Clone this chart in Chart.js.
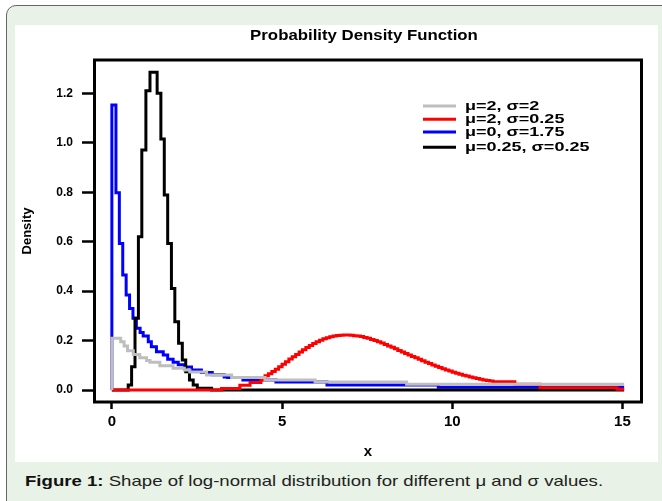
<!DOCTYPE html>
<html>
<head>
<meta charset="utf-8">
<script src="https://cdn.jsdelivr.net/npm/chart.js@4.4.0/dist/chart.umd.min.js"></script>
<style>
html,body{margin:0;padding:0;background:#fff;overflow:hidden;width:662px;height:501px;}
#frame{position:absolute;left:6px;top:5px;width:672px;height:512px;border:1.5px solid #666;border-radius:10px;background:#e8f2e6;box-sizing:border-box;}
#panel{position:absolute;left:15px;top:25px;width:643px;height:437px;background:#fff;}
#caption{position:absolute;left:25px;top:472px;font:15px "Liberation Sans",Arial,sans-serif;color:#222;white-space:nowrap;transform-origin:0 0;transform:scaleX(1.24);}
#caption b{color:#111;}
</style>
</head>
<body>
<div id="frame"></div>
<div id="panel"><canvas id="c" width="643" height="437"></canvas></div>
<div id="caption"><b>Figure 1:</b> Shape of log-normal distribution for different μ and σ values.</div>
<script>
// ---- data ----
const chartTitle = 'Probability Density Function';
const xAxisLabel = 'x';
const yAxisLabel = 'Density';
const xTickValues = [0, 5, 10, 15];
const yTickValues = [0, 0.2, 0.4, 0.6, 0.8, 1.0, 1.2];
const seriesLabels = ['μ=2, σ=2', 'μ=2, σ=0.25', 'μ=0, σ=1.75', 'μ=0.25, σ=0.25'];
const seriesColors = ['#bebebe', '#ff0000', '#0000ff', '#000000'];

const grayX = [0, 0, 0.26, 0.36, 0.46, 0.63, 0.82, 1.02, 1.12, 1.41, 1.80, 2.13, 2.29, 2.78, 3.52, 4.50, 5.97, 8.66, 15.05];
const grayY = [0, 0.209, 0.195, 0.178, 0.159, 0.144, 0.131, 0.119, 0.112, 0.098, 0.088, 0.081, 0.073, 0.061, 0.051, 0.041, 0.032, 0.023, 0.023];

const redX = [0, 3.22, 3.76, 4.06, 4.38,
  4.5, 4.6, 4.7, 4.8, 4.9, 5.0, 5.1, 5.2, 5.3, 5.4, 5.5, 5.6, 5.7, 5.8, 5.9,
  6.0, 6.1, 6.2, 6.3, 6.4, 6.5, 6.6, 6.7, 6.8, 6.9, 7.0, 7.1, 7.2, 7.3, 7.4,
  7.5, 7.6, 7.7, 7.8, 7.9, 8.0, 8.1, 8.2, 8.3, 8.4, 8.5, 8.6, 8.7, 8.8, 8.9,
  9.0, 9.1, 9.2, 9.3, 9.4, 9.5, 9.6, 9.7, 9.8, 9.9, 10.0, 10.1, 10.2, 10.3, 10.4,
  10.5, 10.6, 10.7, 10.8, 10.9, 11.0, 11.1,
  11.2, 11.84, 12.58, 14.84, 15.05];
const redY = [0, 0.006, 0.019, 0.030, 0.042,
  0.058, 0.066, 0.075, 0.084, 0.094, 0.104, 0.114, 0.125, 0.135, 0.144, 0.154, 0.163, 0.172, 0.180, 0.188,
  0.195, 0.201, 0.207, 0.211, 0.215, 0.218, 0.221, 0.222, 0.223, 0.223, 0.222, 0.220, 0.218, 0.216, 0.212,
  0.209, 0.204, 0.200, 0.195, 0.190, 0.184, 0.178, 0.173, 0.167, 0.160, 0.154, 0.148, 0.142, 0.136, 0.130,
  0.124, 0.118, 0.112, 0.107, 0.101, 0.096, 0.091, 0.086, 0.081, 0.077, 0.072, 0.068, 0.064, 0.060, 0.057,
  0.053, 0.050, 0.047, 0.044, 0.041, 0.038, 0.036,
  0.033, 0.023, 0.009, 0.003, 0.003];

const blueX = [0, 0, 0.12, 0.22, 0.32, 0.42, 0.52, 0.62, 0.72, 0.83, 0.92, 1.07, 1.16, 1.31, 1.51, 1.64, 1.80, 1.95, 2.14, 2.34, 2.63, 2.95, 3.30, 3.40, 3.85, 4.82, 6.32, 9.59, 15.05];
const blueY = [0, 1.153, 0.798, 0.593, 0.465, 0.384, 0.330, 0.290, 0.250, 0.233, 0.218, 0.195, 0.175, 0.155, 0.142, 0.124, 0.112, 0.102, 0.093, 0.081, 0.071, 0.062, 0.053, 0.051, 0.040, 0.032, 0.020, 0.011, 0.011];

const blackX = [0, 0.48, 0.58, 0.68, 0.78, 0.88, 1.00, 1.12, 1.33, 1.44, 1.54, 1.64, 1.75, 1.85, 1.96, 2.07, 2.17, 2.28, 2.39, 2.51, 2.93, 15.05];
const blackY = [0, 0.020, 0.094, 0.290, 0.620, 0.971, 1.211, 1.285, 1.200, 1.015, 0.789, 0.593, 0.411, 0.276, 0.189, 0.121, 0.074, 0.040, 0.020, 0.007, 0, 0];

// ---- chart ----
const toPoints = (xs, ys) => xs.map((x, i) => ({x: x, y: ys[i]}));
const seriesPoints = [toPoints(grayX, grayY), toPoints(redX, redY), toPoints(blueX, blueY), toPoints(blackX, blackY)];
const drawOrder = [1, 2, 4, 3]; // lower = drawn on top

const FONT = '"Liberation Sans", Arial, sans-serif';

const framePlugin = {
  id: 'framePlugin',
  afterDatasetsDraw(chart) {
    const ctx = chart.ctx, a = chart.chartArea;
    ctx.save();
    // plot frame
    ctx.strokeStyle = '#000';
    ctx.lineWidth = 3;
    ctx.strokeRect(a.left, a.top, a.right - a.left, a.bottom - a.top);
    // title
    ctx.fillStyle = '#000';
    ctx.font = 'bold 15px ' + FONT;
    ctx.textAlign = 'center';
    ctx.textBaseline = 'middle';
    ctx.save();
    ctx.translate((a.left + a.right) / 2 - 4, 10.5);
    ctx.scale(1.12, 1);
    ctx.fillText(chartTitle, 0, 0);
    ctx.restore();
    // legend
    const lx0 = a.left + 328.5, lx1 = a.left + 361.5, tx = a.left + 370.5;
    const ly = [a.top + 46, a.top + 59.3, a.top + 72, a.top + 87.3];
    chart.data.datasets.forEach((ds, i) => {
      ctx.strokeStyle = ds.borderColor;
      ctx.lineWidth = 3;
      ctx.beginPath();
      ctx.moveTo(lx0, ly[i]);
      ctx.lineTo(lx1, ly[i]);
      ctx.stroke();
      ctx.save();
      ctx.translate(tx, ly[i] + 0.5);
      ctx.scale(1.5, 1);
      ctx.fillStyle = '#000';
      ctx.font = 'bold 12px ' + FONT;
      ctx.textAlign = 'left';
      ctx.textBaseline = 'middle';
      ctx.fillText(ds.label, 0, 0);
      ctx.restore();
    });
    ctx.restore();
  }
};

new Chart(document.getElementById('c'), {
  type: 'line',
  data: {
    datasets: seriesLabels.map((label, i) => ({
      label: label,
      data: seriesPoints[i],
      borderColor: seriesColors[i],
      backgroundColor: seriesColors[i],
      borderWidth: 3,
      stepped: true,
      pointRadius: 0,
      fill: false,
      borderCapStyle: 'butt',
      borderJoinStyle: 'miter',
      order: drawOrder[i]
    }))
  },
  options: {
    responsive: false,
    animation: false,
    devicePixelRatio: 1,
    layout: {autoPadding: false, padding: {left: 0, top: 35, right: 16.5, bottom: 0}},
    plugins: {legend: {display: false}, tooltip: {enabled: false}, title: {display: false}},
    scales: {
      x: {
        type: 'linear',
        min: -0.51,
        max: 15.56,
        afterBuildTicks: s => { s.ticks = xTickValues.map(v => ({value: v})); },
        afterFit: s => { s.height = 60; },
        ticks: {color: '#000', font: {family: FONT, size: 15, weight: 'bold'}, padding: 4, maxRotation: 0, callback: v => String(v)},
        grid: {display: true, drawOnChartArea: false, drawTicks: true, tickLength: 7, tickWidth: 2.5, tickColor: '#000'},
        border: {display: false},
        title: {display: true, text: xAxisLabel, color: '#000', font: {family: FONT, size: 15, weight: 'bold'}, padding: {top: 0, bottom: 1}}
      },
      y: {
        type: 'linear',
        min: -0.0485,
        max: 1.335,
        afterBuildTicks: s => { s.ticks = yTickValues.map(v => ({value: v})); },
        afterFit: s => { s.width = 79.5; },
        ticks: {color: '#000', font: {family: FONT, size: 12, weight: 'bold'}, padding: 9, callback: v => Number(v).toFixed(1)},
        grid: {display: true, drawOnChartArea: false, drawTicks: true, tickLength: 12.5, tickWidth: 2.5, tickColor: '#000'},
        border: {display: false},
        title: {display: true, text: yAxisLabel, color: '#000', font: {family: FONT, size: 13, weight: 'bold'}, padding: {top: 5, bottom: 0}}
      }
    }
  },
  plugins: [framePlugin]
});
</script>
</body>
</html>
